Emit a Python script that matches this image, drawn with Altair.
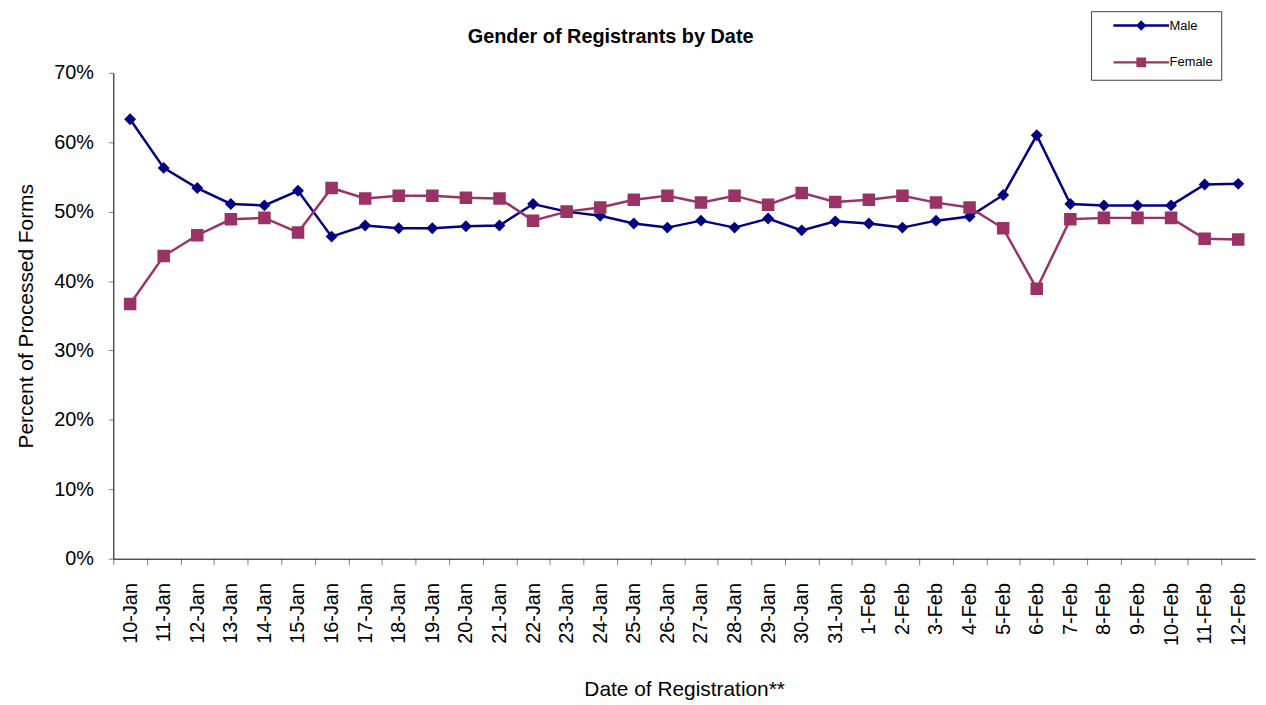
import altair as alt
import pandas as pd

dates = ["10-Jan", "11-Jan", "12-Jan", "13-Jan", "14-Jan", "15-Jan", "16-Jan", "17-Jan",
         "18-Jan", "19-Jan", "20-Jan", "21-Jan", "22-Jan", "23-Jan", "24-Jan", "25-Jan",
         "26-Jan", "27-Jan", "28-Jan", "29-Jan", "30-Jan", "31-Jan", "1-Feb", "2-Feb",
         "3-Feb", "4-Feb", "5-Feb", "6-Feb", "7-Feb", "8-Feb", "9-Feb", "10-Feb",
         "11-Feb", "12-Feb"]

male = [63.3, 56.3, 53.4, 51.1, 50.9, 53.0, 46.4, 48.0, 47.6, 47.6, 47.9, 48.0, 51.1,
        50.0, 49.4, 48.3, 47.7, 48.7, 47.7, 49.0, 47.3, 48.6, 48.3, 47.7, 48.7, 49.3,
        52.4, 61.0, 51.1, 50.9, 50.9, 50.9, 53.9, 54.0]

female = [36.7, 43.6, 46.6, 48.9, 49.1, 47.0, 53.4, 51.9, 52.3, 52.3, 52.0, 51.9, 48.7,
          50.0, 50.6, 51.7, 52.3, 51.3, 52.3, 51.0, 52.7, 51.4, 51.7, 52.3, 51.3, 50.6,
          47.6, 38.9, 48.9, 49.1, 49.1, 49.1, 46.1, 46.0]

series = ["Male", "Female"]
colors = ["#000080", "#993366"]
y_ticks = [0, 10, 20, 30, 40, 50, 60, 70]

n = len(dates)
df = pd.DataFrame({
    "Date": dates * 2,
    "Series": ["Male"] * n + ["Female"] * n,
    "Pct": male + female,
})

FONT = "Liberation Sans"
W, H = 1149, 489
half_step = W / n / 2

# marker shapes; the horizontal stroke segment only shows in the legend (stroked there)
diamond = "M-8,0H8M0,-1L1,0L0,1L-1,0Z"
square = "M-8,0H8M-1.05,-1.05H1.05V1.05H-1.05Z"

x_enc = alt.X(
    "Date:N", sort=dates,
    scale=alt.Scale(type="point", padding=0.5),
    axis=alt.Axis(
        title="Date of Registration**", labelAngle=270, labelAlign="right",
        labelBaseline="middle", labelFontSize=20, titleFontSize=21,
        labelFont=FONT, titleFont=FONT, titleFontWeight="normal",
        tickOffset=-half_step, labelOffset=half_step, tickSize=6,
        labelPadding=18, titlePadding=33, domainColor="black", tickColor="#808080",
        labelColor="black", titleColor="black", grid=False,
    ),
)
y_enc = alt.Y(
    "Pct:Q",
    scale=alt.Scale(domain=[0, 70], nice=False, zero=True),
    axis=alt.Axis(
        title="Percent of Processed Forms", values=y_ticks,
        labelExpr="datum.value + '%'", labelFontSize=20, titleFontSize=21,
        labelFont=FONT, titleFont=FONT, titleFontWeight="normal",
        tickSize=5, labelPadding=15, titlePadding=17, domainColor="black",
        tickColor="#808080", labelColor="black", titleColor="black", grid=False,
    ),
)

legend = alt.Legend(
    title=None, orient="none", legendX=984, legendY=-62,
    strokeColor="#404040", fillColor="white", padding=8,
    labelFont=FONT, labelFontSize=13, labelColor="black",
    symbolSize=49, symbolStrokeWidth=2.5, symbolOffset=36, labelOffset=22,
    rowPadding=19, labelExpr="datum.label + '\u00a0\u00a0\u00a0\u00a0'",
)

color_enc = alt.Color("Series:N", scale=alt.Scale(domain=series, range=colors), legend=legend)

lines = alt.Chart(df).mark_line(strokeWidth=2.5).encode(
    x=x_enc, y=y_enc, color=color_enc, detail="Series:N",
)

points = alt.Chart(df).mark_point(filled=True, size=144, strokeWidth=0, opacity=1).encode(
    x=x_enc, y=y_enc,
    color=color_enc,
    stroke=alt.Stroke("Series:N", scale=alt.Scale(domain=series, range=colors), legend=legend),
    shape=alt.Shape("Series:N", scale=alt.Scale(domain=series, range=[diamond, square]), legend=legend),
)

chart = alt.layer(lines, points).properties(
    width=W, height=H,
    title=alt.Title("Gender of Registrants by Date", fontSize=20, fontWeight="bold",
                    font=FONT, color="black", anchor="middle", frame="group",
                    baseline="alphabetic", offset=29, dx=-74, dy=82),
    autosize=alt.AutoSizeParams(type="none"),
    padding={"left": 106, "top": 63, "right": 3, "bottom": 142},
).configure(background="white").configure_view(stroke=None)

chart.save("out.html", embed_options={"renderer": "svg", "actions": False})
